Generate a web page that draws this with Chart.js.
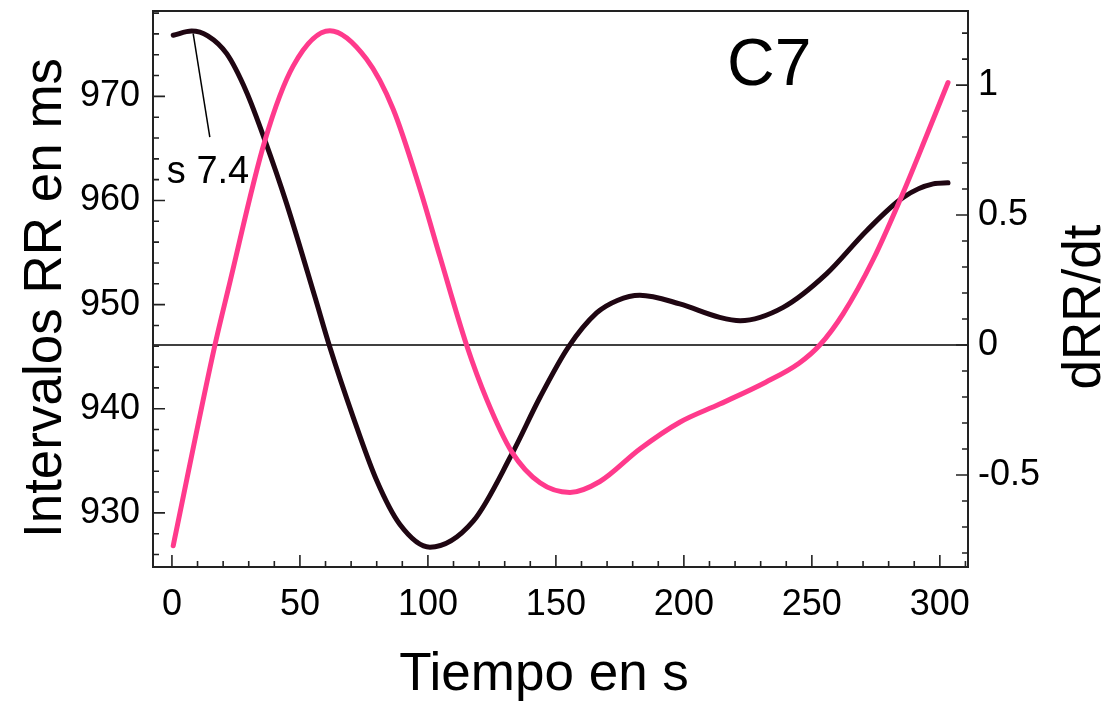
<!DOCTYPE html>
<html>
<head>
<meta charset="utf-8">
<script src="https://cdn.jsdelivr.net/npm/chart.js@4/dist/chart.umd.min.js"></script>
<style>
  html, body { margin: 0; padding: 0; background: #fff; }
  canvas { display: block; }
</style>
</head>
<body>
<canvas id="rrChart" width="1104" height="702"></canvas>
<script>
// RR interval curve (left axis, ms) against time (s)
const rrTimes  = [0.5, 7.7, 14, 21.4, 29, 36.3, 44.8, 55.9, 61.7, 70.8, 80, 89, 100.8, 117.7, 132.7, 143.8, 154.8, 165.9, 174, 182.8, 198.4, 214, 222, 238.8, 255.7, 271.4, 285.7, 297.4, 303.2];
const rrValues = [975.87, 976.28, 975.82, 974.1, 970.5, 965.8, 959.7, 950.7, 945.9, 939.2, 933.1, 928.9, 926.7, 929.2, 935.6, 941.1, 945.9, 949.2, 950.4, 950.9, 950.07, 948.78, 948.46, 949.74, 952.95, 957.1, 960.3, 961.6, 961.7];

// dRR/dt curve (right axis)
const dTimes  = [0.5, 16.8, 22, 36.3, 47.4, 61.7, 76, 86.4, 96.9, 104.7, 115.1, 123, 132.7, 143.8, 155.5, 167.2, 182.8, 198.4, 214, 232, 245, 253.1, 262.2, 274, 285.7, 294.8, 303.2];
const dValues = [-0.772, 0, 0.215, 0.786, 1.074, 1.209, 1.1, 0.908, 0.60, 0.34, 0, -0.21, -0.41, -0.53, -0.567, -0.525, -0.4, -0.297, -0.227, -0.143, -0.07, 0, 0.12, 0.33, 0.587, 0.805, 1.01];

// tick labels
const xTicks  = [0, 50, 100, 150, 200, 250, 300];
const rrTicks = [930, 940, 950, 960, 970];
const dTicks  = [-0.5, 0, 0.5, 1];

// axis ranges
const xRange  = [-7.4, 311];
const rrRange = [924.8, 978.2];
const dRange  = [-0.854, 1.285];

// annotation: slope label at the peak
const noteText = "s 7.4";
const noteFrom = [8.3, 976.03];
const noteTo   = [14.8, 966.09];
const notePos  = [-2, 962.7];

const FONT = "'Liberation Sans', Arial, Helvetica, sans-serif";
const pink = "#ff3a8c";
const dark = "#1f0612";

function pairs(xs, ys) {
  return xs.map((x, i) => ({ x: x, y: ys[i] }));
}

function noPad(s) {
  s.paddingTop = 0;
  s.paddingBottom = 0;
  s.paddingLeft = 0;
  s.paddingRight = 0;
}

const framePlugin = {
  id: "frame",
  beforeDatasetsDraw(chart) {
    const { ctx, chartArea } = chart;
    const py = chart.scales.y2.getPixelForValue(0);
    ctx.save();
    ctx.strokeStyle = "#000";
    ctx.lineWidth = 1.5;
    ctx.beginPath();
    ctx.moveTo(chartArea.left, py);
    ctx.lineTo(chartArea.right, py);
    ctx.stroke();
    ctx.restore();
  },
  afterDraw(chart) {
    const { ctx, chartArea } = chart;
    const { left, right, top, bottom } = chartArea;
    const sx = chart.scales.x, sy = chart.scales.y, s2 = chart.scales.y2;
    ctx.save();
    ctx.strokeStyle = "#222";
    ctx.lineWidth = 2;
    ctx.strokeRect(left, top, right - left, bottom - top);

    // inward tick marks
    ctx.lineWidth = 1.6;
    ctx.beginPath();
    for (let v = 0; v <= 310; v += 10) {
      const px = sx.getPixelForValue(v);
      const len = v % 50 === 0 ? 12 : 6;
      ctx.moveTo(px, bottom);
      ctx.lineTo(px, bottom - len);
    }
    for (let v = 926; v <= 978; v += 2) {
      const py = sy.getPixelForValue(v);
      const len = v % 10 === 0 ? 12 : 6;
      ctx.moveTo(left, py);
      ctx.lineTo(left + len, py);
    }
    for (let i = -8; i <= 12; i++) {
      const py = s2.getPixelForValue(i / 10);
      const len = i % 5 === 0 ? 12 : 6;
      ctx.moveTo(right, py);
      ctx.lineTo(right - len, py);
    }
    ctx.stroke();

    // annotation leader line and label
    ctx.strokeStyle = "#000";
    ctx.lineWidth = 1.5;
    ctx.beginPath();
    ctx.moveTo(sx.getPixelForValue(noteFrom[0]), sy.getPixelForValue(noteFrom[1]));
    ctx.lineTo(sx.getPixelForValue(noteTo[0]), sy.getPixelForValue(noteTo[1]));
    ctx.stroke();

    ctx.fillStyle = "#000";
    ctx.font = "38px " + FONT;
    ctx.textAlign = "left";
    ctx.textBaseline = "middle";
    ctx.fillText(noteText, sx.getPixelForValue(notePos[0]), sy.getPixelForValue(notePos[1]));

    // panel label
    ctx.font = "66px " + FONT;
    ctx.textBaseline = "alphabetic";
    ctx.fillText("C7", 727, 85);

    // axis titles
    ctx.font = "53px " + FONT;
    ctx.textAlign = "center";
    ctx.fillText("Tiempo en s", 544, 690);

    ctx.save();
    ctx.translate(61, 298);
    ctx.rotate(-Math.PI / 2);
    ctx.fillText("Intervalos RR en ms", 0, 0);
    ctx.restore();

    ctx.save();
    ctx.translate(1100, 307);
    ctx.rotate(-Math.PI / 2);
    ctx.fillText("dRR/dt", 0, 0);
    ctx.restore();

    ctx.restore();
  }
};

const ctx = document.getElementById("rrChart").getContext("2d");
new Chart(ctx, {
  type: "line",
  data: {
    datasets: [
      {
        label: "RR",
        data: pairs(rrTimes, rrValues),
        yAxisID: "y",
        borderColor: dark,
        borderWidth: 5,
        pointRadius: 0,
        cubicInterpolationMode: "monotone",
        borderCapStyle: "round",
        fill: false,
        order: 1
      },
      {
        label: "dRR/dt",
        data: pairs(dTimes, dValues),
        yAxisID: "y2",
        borderColor: pink,
        borderWidth: 5,
        pointRadius: 0,
        cubicInterpolationMode: "monotone",
        borderCapStyle: "round",
        fill: false,
        order: 0
      }
    ]
  },
  options: {
    responsive: false,
    animation: false,
    layout: { padding: { top: 11, left: 0, right: 0, bottom: 0 } },
    plugins: {
      legend: { display: false },
      tooltip: { enabled: false }
    },
    scales: {
      x: {
        type: "linear",
        min: xRange[0],
        max: xRange[1],
        border: { display: false },
        grid: { display: false, drawTicks: false },
        afterBuildTicks: s => { s.ticks = xTicks.map(v => ({ value: v })); },
        afterFit: s => { s.height = 135; noPad(s); },
        ticks: {
          padding: 16,
          color: "#000",
          font: { size: 36, family: FONT },
          maxRotation: 0,
          callback: v => String(v)
        }
      },
      y: {
        type: "linear",
        position: "left",
        min: rrRange[0],
        max: rrRange[1],
        border: { display: false },
        grid: { display: false, drawTicks: false },
        afterBuildTicks: s => { s.ticks = rrTicks.map(v => ({ value: v })); },
        afterFit: s => { s.width = 153; noPad(s); },
        ticks: {
          padding: 13,
          color: "#000",
          font: { size: 36, family: FONT },
          callback: v => String(v)
        }
      },
      y2: {
        type: "linear",
        position: "right",
        min: dRange[0],
        max: dRange[1],
        border: { display: false },
        grid: { display: false, drawTicks: false },
        afterBuildTicks: s => { s.ticks = dTicks.map(v => ({ value: v })); },
        afterFit: s => { s.width = 136; noPad(s); },
        ticks: {
          padding: 10,
          color: "#000",
          font: { size: 36, family: FONT },
          callback: v => String(v)
        }
      }
    }
  },
  plugins: [framePlugin]
});
</script>
</body>
</html>
